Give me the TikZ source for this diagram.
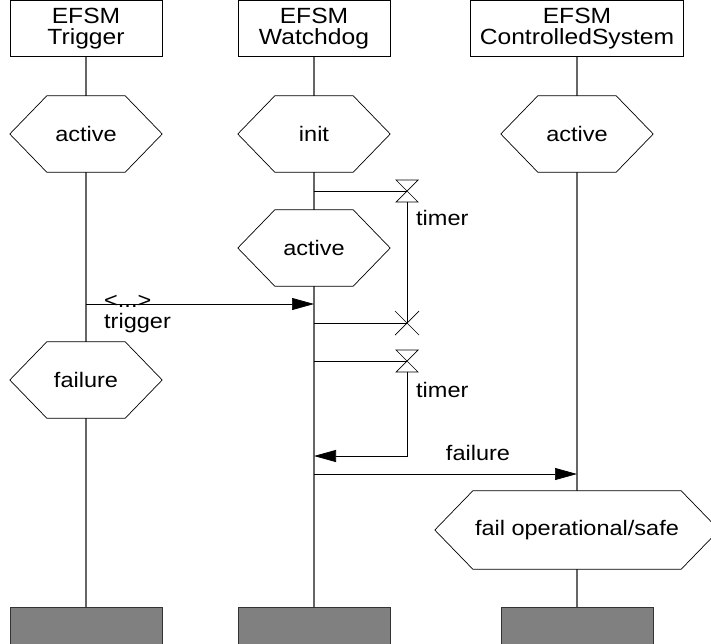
\documentclass[tikz,border=0pt]{standalone}
\usepackage{fontspec}
\setmainfont{Liberation Sans}[FakeStretch=1.12]
\usetikzlibrary{arrows.meta}
\pgfdeclarelayer{bg}
\pgfdeclarelayer{mid}
\pgfsetlayers{bg,mid,main}
\tikzset{
  life/.style={draw=black!60, line width=1.1pt},
  thin/.style={draw=black, line width=0.7pt},
  msg/.style={thin, -{Triangle[length=22pt,width=12pt]}},
  headbox/.style={draw, line width=0.7pt, inner sep=0pt, align=center, anchor=north,
     minimum height=56pt, font=\fontsize{22}{21}\selectfont},
  hexnode/.style={inner sep=0pt, minimum width=152pt, minimum height=76pt},
  endbox/.style={draw=black!80, line width=0.7pt, fill=black!50, anchor=north, minimum width=152pt, minimum height=40pt},
  lbl/.style={inner sep=0pt, font=\fontsize{21}{21}\selectfont},
}
\newcommand\hexdraw[2]{%
  \begin{pgfonlayer}{mid}
  \draw[thin, fill=white] (#1.west) -- ([xshift=#2]#1.north west) -- ([xshift=-#2]#1.north east)
     -- (#1.east) -- ([xshift=-#2]#1.south east) -- ([xshift=#2]#1.south west) -- cycle;
  \end{pgfonlayer}}
\begin{document}
\begin{tikzpicture}[x=1pt,y=-1pt, font=\fontsize{21}{21}\selectfont]
\useasboundingbox (0,0) rectangle (711,643);
% headers
\node[headbox, minimum width=152pt] (hT) at (86,0) {EFSM\\Trigger};
\node[headbox, minimum width=152pt] (hW) at (314,0) {EFSM\\Watchdog};
\node[headbox, minimum width=213pt] (hC) at (577,0) {EFSM\\ControlledSystem};
% end boxes
\node[endbox] (eT) at (86,607) {};
\node[endbox] (eW) at (314,607) {};
\node[endbox] (eC) at (577,607) {};
% lifelines
\begin{pgfonlayer}{bg}
\draw[life] (hT.south) -- (eT.north);
\draw[life] (hW.south) -- (eW.north);
\draw[life] (hC.south) -- (eC.north);
\end{pgfonlayer}
% states
\node[hexnode] (sT1) at (86,134) {active};
\node[hexnode] (sW1) at (314,134) {init};
\node[hexnode] (sC1) at (577,134) {active};
\node[hexnode] (sW2) at (314,248) {active};
\node[hexnode] (sT2) at (86,380) {failure};
\node[hexnode, minimum width=284pt, minimum height=78pt] (sC2) at (577,530) {fail operational/safe};
\hexdraw{sT1}{37pt}
\hexdraw{sW1}{37pt}
\hexdraw{sC1}{37pt}
\hexdraw{sW2}{37pt}
\hexdraw{sT2}{37pt}
\hexdraw{sC2}{38pt}
% timer 1
\coordinate (w1) at (314,191);
\coordinate (t1) at (407,191);
\coordinate (t1b) at (407,202);
\coordinate (w2) at (314,323);
\coordinate (x1) at (407,323);
\draw[thin] (w1) -- (t1);
\draw[thin] ([shift={(-11,-11)}]t1) -- ([shift={(11,-11)}]t1) -- ([shift={(-11,11)}]t1) -- ([shift={(11,11)}]t1) -- cycle;
\draw[thin] (t1b) -- (x1);
\draw[thin] (w2) -- (x1);
\draw[thin] ([shift={(-12,-12)}]x1) -- ([shift={(12,12)}]x1);
\draw[thin] ([shift={(-12,12)}]x1) -- ([shift={(12,-12)}]x1);
\node[lbl, anchor=west] (lt1) at (416,218) {timer};
% timer 2
\coordinate (w3) at (314,361);
\coordinate (t2) at (407,361);
\coordinate (t2b) at (407,372);
\coordinate (c2) at (407,456);
\coordinate (w4) at (314,456);
\draw[thin] (w3) -- (t2);
\draw[thin] ([shift={(-11,-11)}]t2) -- ([shift={(11,-11)}]t2) -- ([shift={(-11,11)}]t2) -- ([shift={(11,11)}]t2) -- cycle;
\draw[msg] (t2b) -- (c2) -- (w4);
\node[lbl, anchor=west] (lt2) at (416,390) {timer};
% trigger message
\coordinate (m1a) at (86,304);
\coordinate (m1b) at (314,304);
\draw[msg] (m1a) -- (m1b);
\node[lbl, anchor=west] (l1) at (104,301) {<...>};
\node[lbl, anchor=west] (l2) at (104,323) {trigger};
% failure message
\coordinate (m2a) at (314,474);
\coordinate (m2b) at (577,474);
\draw[msg] (m2a) -- (m2b);
\node[lbl] (l3) at (478,453) {failure};
\end{tikzpicture}
\end{document}
